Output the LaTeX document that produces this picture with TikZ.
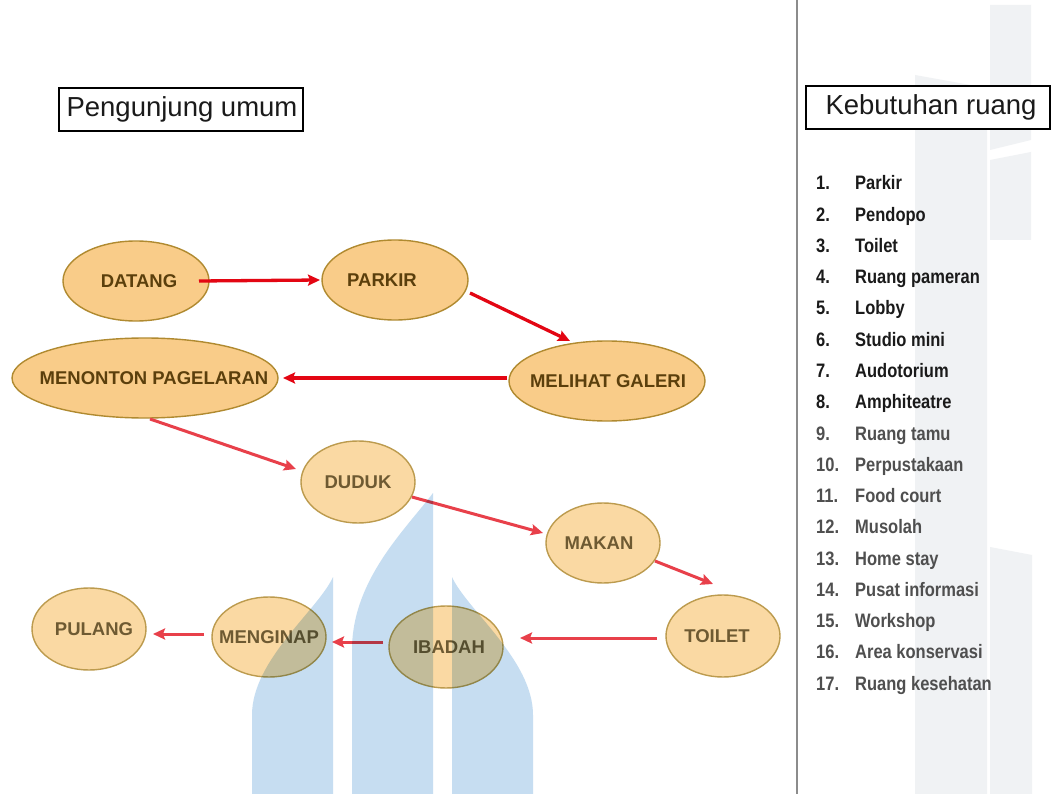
\documentclass[tikz,border=0pt]{standalone}
\usepackage{fontspec}
\setmainfont{Liberation Sans}
\usetikzlibrary{shapes.geometric,arrows.meta}
\definecolor{nodefill}{HTML}{F9CC89}
\definecolor{nodeedge}{HTML}{B08A30}
\definecolor{nodetext}{HTML}{5B3F0C}
\definecolor{lightfill}{HTML}{FAD9A3}
\definecolor{lightedge}{HTML}{BC9B4E}
\definecolor{lighttext}{HTML}{6E5A32}
\definecolor{arrdark}{HTML}{E30613}
\definecolor{arrlight}{HTML}{E8404A}
\definecolor{wmblue}{HTML}{C6DDF1}
\definecolor{wmgray}{HTML}{F0F2F4}
\definecolor{sepgray}{HTML}{8C8C8C}
\definecolor{listdark}{HTML}{1A1A1A}
\definecolor{listgray}{HTML}{4F4F4F}
\newcommand{\nodetxt}[2]{\makebox[0pt]{\kern#1\makebox[0pt]{#2}\kern-#1}}
\newcommand{\tallt}[1]{\scalebox{1}[1.18]{#1}}
\tikzset{
  flow/.style={ellipse, draw=nodeedge, line width=1.4pt, fill=nodefill, text=nodetext,
    inner sep=0pt, font=\fontsize{18.5}{22}\selectfont\bfseries},
  flowlight/.style={flow, draw=lightedge, fill=lightfill, text=lighttext},
  conn/.style={draw=arrdark, line width=3.3pt, -{Stealth[length=12pt,width=11pt,inset=2pt]}},
  connlight/.style={conn, draw=arrlight, line width=3pt},
  titlebox/.style={draw=black, line width=1.5pt, fill=white, inner sep=0pt,
    minimum width=244pt, minimum height=43pt, font=\fontsize{27.5}{32}\selectfont, text=listdark},
  listnum/.style={anchor=base west, inner sep=0pt, font=\fontsize{16.5}{20}\selectfont\bfseries},
  wmshape/.style={fill=wmblue, draw=none},
  wmbar/.style={fill=wmgray, draw=none}
}
\begin{document}
\begin{tikzpicture}[x=1pt,y=-1pt]
\useasboundingbox (0,0) rectangle (1053,794);
\fill[white] (0,0) rectangle (1053,794);

% faint watermark bars on the right
\fill[wmbar] (915,75) -- (987,88) -- (987,794) -- (915,794) -- cycle;
\fill[wmbar] (990,5) -- (1031,5) -- (1031,140) -- (990,150) -- cycle;
\fill[wmbar] (990,160) -- (1031,152) -- (1031,240) -- (990,240) -- cycle;
\fill[wmbar] (990,547) -- (1032,555) -- (1032,794) -- (990,794) -- cycle;

% separator
\draw[sepgray, line width=2pt] (797,0) -- (797,794);

% title boxes
\node[titlebox] (peng) at (181,109.5) {\nodetxt{1pt}{Pengunjung umum}};
\node[titlebox] (kebu) at (928,107.5) {\nodetxt{3pt}{Kebutuhan ruang}};

% flow nodes
\node[flow, minimum width=146pt, minimum height=80pt] (datang) at (136,281) {\nodetxt{3pt}{DATANG}};
\node[flow, minimum width=146pt, minimum height=80pt] (parkir) at (395,280) {\nodetxt{-13pt}{PARKIR}};
\node[flow, minimum width=196pt, minimum height=80pt] (melihat) at (607,381) {\nodetxt{1pt}{MELIHAT GALERI}};
\node[flow, minimum width=266pt, minimum height=80pt] (menonton) at (145,378) {\nodetxt{9pt}{MENONTON PAGELARAN}};
\node[flowlight, minimum width=114pt, minimum height=82pt] (duduk) at (358,482) {\nodetxt{0pt}{DUDUK}};
\node[flowlight, minimum width=114pt, minimum height=80pt] (makan) at (603,543) {\nodetxt{-4pt}{MAKAN}};
\node[flowlight, minimum width=114pt, minimum height=82pt] (toilet) at (723,636) {\nodetxt{-6pt}{TOILET}};
\node[flowlight, minimum width=114pt, minimum height=82pt] (ibadah) at (446,647) {\nodetxt{3pt}{IBADAH}};
\node[flowlight, minimum width=114pt, minimum height=80pt] (menginap) at (269,637) {\nodetxt{0pt}{MENGINAP}};
\node[flowlight, minimum width=114pt, minimum height=82pt] (pulang) at (89,629) {\nodetxt{5pt}{PULANG}};

% connectors
\draw[conn] ([shift={(63,0)}]datang.center) -- ([shift={(-75,0)}]parkir.center);
\draw[conn] ([shift={(75,13)}]parkir.center) -- ([shift={(-37,-40)}]melihat.center);
\draw[conn] ([shift={(-100,-3)}]melihat.center) -- ([shift={(138,0)}]menonton.center);
\draw[connlight] ([shift={(5,41)}]menonton.center) -- ([shift={(-62,-13)}]duduk.center);
\draw[connlight] ([shift={(54,15)}]duduk.center) -- ([shift={(-60,-10)}]makan.center);
\draw[connlight] ([shift={(52,18)}]makan.center) -- ([shift={(-10,-52)}]toilet.center);
\draw[connlight] ([shift={(-66,2)}]toilet.center) -- ([shift={(74,-9)}]ibadah.center);
\draw[connlight] ([shift={(-63,-5)}]ibadah.center) -- ([shift={(63,5)}]menginap.center);
\draw[connlight] ([shift={(-65,-3)}]menginap.center) -- ([shift={(64,5)}]pulang.center);

% watermark pillars (multiplied over the drawing)
\begin{scope}[blend mode=multiply]
\fill[wmshape] (252,794) -- (252,715) .. controls (252,660) and (318,610) .. (333,577) -- (333,794) -- cycle;
\fill[wmshape] (352,794) -- (352,650) .. controls (352,580) and (405,530) .. (433,493) -- (433,794) -- cycle;
\fill[wmshape] (533,794) -- (533,715) .. controls (533,660) and (467,610) .. (452,577) -- (452,794) -- cycle;
\end{scope}

% list
\foreach \t [count=\i] in {Parkir,Pendopo,Toilet,Ruang pameran,Lobby,Studio mini,Audotorium,Amphiteatre}{
  \node[listnum, text=listdark] (num\i) at (816,{190+(\i-1)*31.25}) {\tallt{\i.}};
  \node[listnum, text=listdark] (item\i) at (855,{190+(\i-1)*31.25}) {\tallt{\t}};
}
\foreach \t [count=\j from 9] in {Ruang tamu,Perpustakaan,Food court,Musolah,Home stay,Pusat informasi,Workshop,Area konservasi,Ruang kesehatan}{
  \node[listnum, text=listgray] (num\j) at (816,{190+(\j-1)*31.25}) {\tallt{\j.}};
  \node[listnum, text=listgray] (item\j) at (855,{190+(\j-1)*31.25}) {\tallt{\t}};
}
\end{tikzpicture}
\end{document}
